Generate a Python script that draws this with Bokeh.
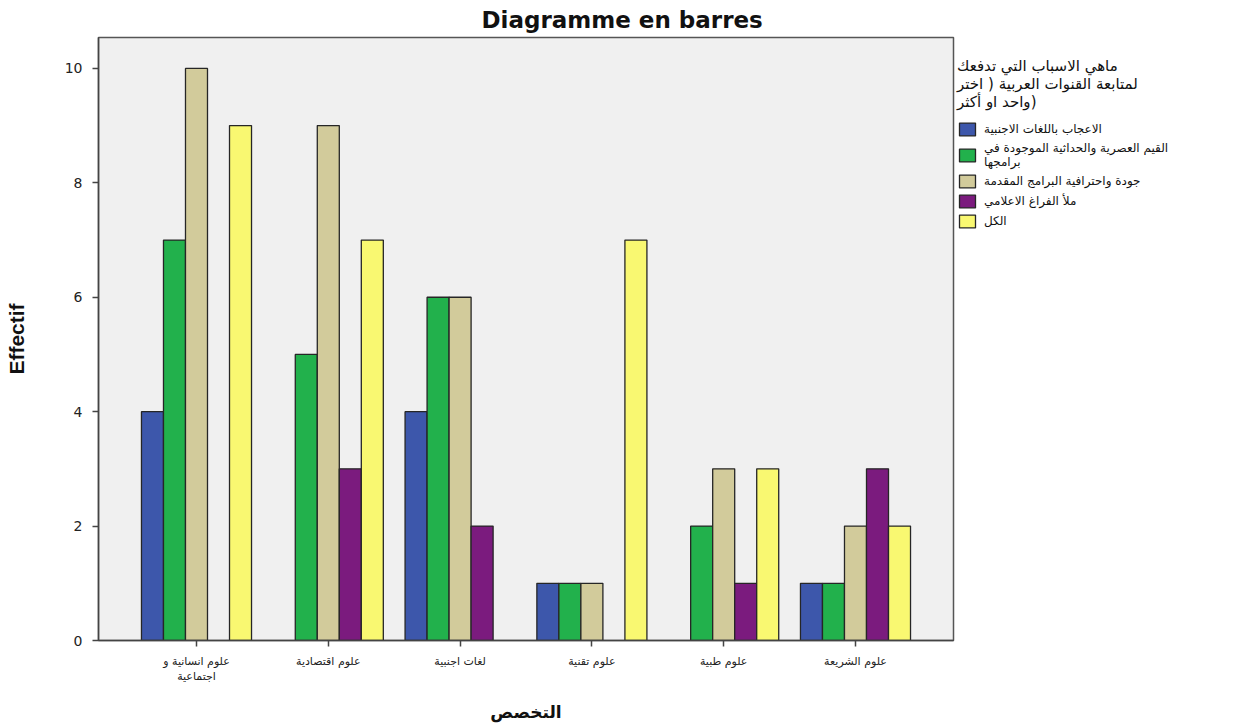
import numpy as np
from bokeh.plotting import figure
from bokeh.models import Range1d, Legend, LegendItem, FixedTicker, ColumnDataSource, CDSView, BooleanFilter
from bokeh.embed import file_html
from bokeh.resources import INLINE

# ---- data ----
categories = ["علوم انسانية و\nاجتماعية", "علوم اقتصادية", "لغات اجنبية", "علوم تقنية", "علوم طبية", "علوم الشريعة"]
series_names = [
    "الاعجاب باللغات الاجنبية",
    "القيم العصرية والحداثية الموجودة في\nبرامجها",
    "جودة واحترافية البرامج المقدمة",
    "ملأ الفراغ الاعلامي",
    "الكل",
]
s_admiration = [4, 0, 4, 1, 0, 1]
s_values = [7, 5, 6, 1, 2, 1]
s_quality = [10, 9, 6, 1, 3, 2]
s_void = [0, 3, 2, 0, 1, 3]
s_all = [9, 7, 0, 7, 3, 2]
series_values = [s_admiration, s_values, s_quality, s_void, s_all]
y_ticks = [0, 2, 4, 6, 8, 10]

title_text = "Diagramme en barres"
legend_title = "ماهي الاسباب التي تدفعك\nلمتابعة القنوات العربية ( اختر\nواحد او أكثر)"
x_label = "التخصص"
y_label = "Effectif"

colors = ["#3D57AB", "#22B14C", "#D2CB9B", "#7B1B7E", "#F9F871"]

# ---- figure ----
xs = np.arange(1, len(categories) + 1)
bar_w = 0.167

p = figure(frame_width=855, frame_height=603, output_backend="svg", toolbar_location=None,
           x_range=Range1d(0.2565, 6.7436), y_range=Range1d(0, 10.54),
           min_border_left=98, min_border_right=303, min_border_top=37, min_border_bottom=87)
p.background_fill_color = "#F0F0F0"
p.border_fill_color = "white"
p.outline_line_color = "#555555"
p.outline_line_width = 1.5
p.grid.visible = False

p.title.text = title_text
p.title.align = "left"
p.title.offset = 383
p.title.standoff = 9
p.title.text_font = "DejaVu Sans"
p.title.text_font_style = "bold"
p.title.text_font_size = "23px"
p.title.text_color = "#111111"

items = []
for i, (name, vals, col) in enumerate(zip(series_names, series_values, colors)):
    src = ColumnDataSource(dict(x=xs + (i - 2) * bar_w, top=vals))
    view = CDSView(filter=BooleanFilter([v > 0 for v in vals]))
    r = p.vbar(x="x", top="top", bottom=0, width=bar_w, source=src, view=view,
               fill_color=col, line_color="#262626", line_width=1.3)
    items.append(LegendItem(label=name, renderers=[r]))

# axes
p.xaxis.ticker = FixedTicker(ticks=list(xs))
p.xaxis.major_label_overrides = {int(x): c for x, c in zip(xs, categories)}
p.yaxis.ticker = FixedTicker(ticks=y_ticks)
for ax in (p.xaxis[0], p.yaxis[0]):
    ax.minor_tick_line_color = None
    ax.major_tick_in = 0
    ax.major_tick_out = 6
    ax.axis_line_color = "#444444"
    ax.axis_line_width = 1.5
    ax.major_tick_line_color = "#444444"
    ax.major_tick_line_width = 1.5
    ax.major_label_text_color = "#222222"
    ax.axis_label_text_color = "#111111"
    ax.axis_label_text_font_style = "bold"

p.xaxis.major_label_text_font = "DejaVu Sans"
p.xaxis.major_label_text_font_size = "11px"
p.xaxis.major_label_standoff = 8
p.xaxis.axis_label = x_label
p.xaxis.axis_label_text_font = "DejaVu Sans"
p.xaxis.axis_label_text_font_size = "17px"
p.xaxis.axis_label_standoff = 16

p.yaxis.major_label_text_font = "DejaVu Sans"
p.yaxis.major_label_text_font_size = "14px"
p.yaxis.major_label_standoff = 10
p.yaxis.axis_label = y_label
p.yaxis.axis_label_text_font = "Liberation Sans"
p.yaxis.axis_label_text_font_size = "21px"
p.yaxis.axis_label_standoff = 34

legend = Legend(items=items, location=(2, 409), orientation="vertical",
                title=legend_title, title_text_font="DejaVu Sans", title_text_font_size="15px",
                title_text_font_style="normal", title_text_color="#111111", title_standoff=10,
                glyph_width=20, glyph_height=16, spacing=4, padding=2, margin=0,
                label_standoff=7, label_text_font="DejaVu Sans", label_text_font_size="12px",
                label_text_color="#111111", border_line_alpha=0, background_fill_alpha=0)
p.add_layout(legend, "right")

open("out.html", "w").write(file_html(p, INLINE))
